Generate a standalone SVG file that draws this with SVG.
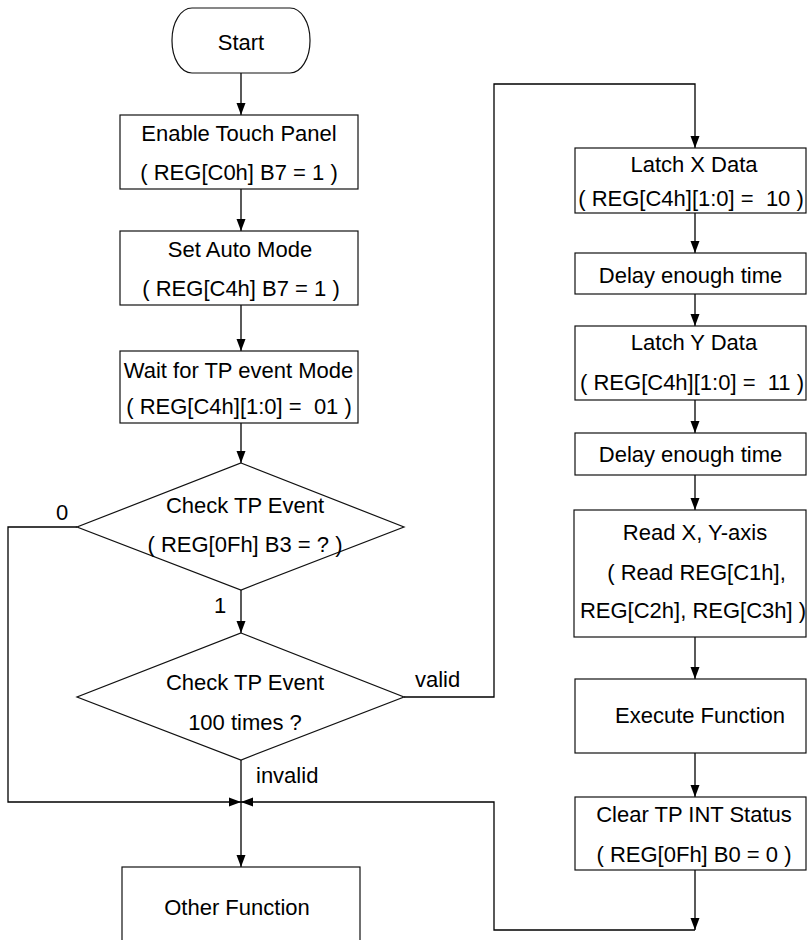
<svg xmlns="http://www.w3.org/2000/svg" width="807" height="940" viewBox="0 0 807 940">
  <defs>
    <marker id="arrow" markerUnits="userSpaceOnUse" markerWidth="12" markerHeight="10" viewBox="0 0 12 10" refX="12" refY="5" orient="auto">
      <path d="M0,0.5 L12,5 L0,9.5 z" fill="#000"/>
    </marker>
    <style>
      .box { fill: #fff; stroke: #111; stroke-width: 1.2; }
      .t { font-family: "Liberation Sans", Arial, sans-serif; font-size: 22px; fill: #000; text-anchor: middle; }
      .lbl { font-family: "Liberation Sans", Arial, sans-serif; font-size: 22px; fill: #000; }
      .ln { fill: none; stroke: #000; stroke-width: 1.3; }
      .ar { fill: none; stroke: #000; stroke-width: 1.3; marker-end: url(#arrow); }
    </style>
  </defs>
  <rect width="807" height="940" fill="#fff"/>

  <g id="connectors">
    <line class="ar" x1="241" y1="73" x2="241" y2="115"/>
    <line class="ar" x1="241" y1="189" x2="241" y2="231"/>
    <line class="ar" x1="241" y1="305" x2="241" y2="351"/>
    <line class="ar" x1="241" y1="423" x2="241" y2="463"/>
    <line class="ar" x1="241" y1="590" x2="241" y2="633"/>
    <polyline class="ar" points="77,527 8,527 8,802 241,802"/>
    <line class="ar" x1="241" y1="760" x2="241" y2="867"/>
    <polyline class="ar" points="404,697 494,697 494,84 695,84 695,148"/>
    <line class="ar" x1="695" y1="213" x2="695" y2="253"/>
    <line class="ar" x1="695" y1="294" x2="695" y2="326"/>
    <line class="ar" x1="695" y1="400" x2="695" y2="433"/>
    <line class="ar" x1="695" y1="475" x2="695" y2="510"/>
    <line class="ar" x1="695" y1="637" x2="695" y2="679"/>
    <line class="ar" x1="695" y1="753" x2="695" y2="797"/>
    <line class="ar" x1="695" y1="870" x2="695" y2="930"/>
    <polyline class="ar" points="695,930 494,930 494,802 241,802"/>
    <text class="lbl" x="62" y="520" text-anchor="middle">0</text>
    <text class="lbl" x="220" y="613" text-anchor="middle">1</text>
    <text class="lbl" x="415" y="687">valid</text>
    <text class="lbl" x="256" y="783">invalid</text>
  </g>

  <g id="start">
    <rect class="box" x="172" y="8" width="138" height="65" rx="20" ry="32"/>
    <text class="t" x="241" y="50">Start</text>
  </g>

  <g id="enable-touch-panel">
    <rect class="box" x="120" y="115" width="238" height="74"/>
    <text class="t" x="239" y="141">Enable Touch Panel</text>
    <text class="t" x="239" y="180">( REG[C0h] B7 = 1 )</text>
  </g>

  <g id="set-auto-mode">
    <rect class="box" x="120" y="231" width="238" height="74"/>
    <text class="t" x="240" y="257">Set Auto Mode</text>
    <text class="t" x="241" y="296">( REG[C4h] B7 = 1 )</text>
  </g>

  <g id="wait-tp-event">
    <rect class="box" x="120" y="351" width="238" height="72"/>
    <text class="t" x="238.5" y="378">Wait for TP event Mode</text>
    <text class="t" x="239" y="414" xml:space="preserve">( REG[C4h][1:0] =  01 )</text>
  </g>

  <g id="check-tp-event">
    <polygon class="box" points="241,463 404,527 241,590 77,527"/>
    <text class="t" x="245" y="513">Check TP Event</text>
    <text class="t" x="245" y="552">( REG[0Fh] B3 = ? )</text>
  </g>

  <g id="check-100-times">
    <polygon class="box" points="241,633 404,697 241,760 77,697"/>
    <text class="t" x="245" y="690">Check TP Event</text>
    <text class="t" x="245" y="730">100 times ?</text>
  </g>

  <g id="other-function">
    <rect class="box" x="122" y="867" width="238" height="90"/>
    <text class="t" x="237" y="915">Other Function</text>
  </g>

  <g id="latch-x">
    <rect class="box" x="575" y="148" width="231" height="65"/>
    <text class="t" x="694" y="172">Latch X Data</text>
    <text class="t" x="691" y="206" xml:space="preserve">( REG[C4h][1:0] =  10 )</text>
  </g>

  <g id="delay-1">
    <rect class="box" x="575" y="253" width="231" height="41"/>
    <text class="t" x="690.5" y="283">Delay enough time</text>
  </g>

  <g id="latch-y">
    <rect class="box" x="575" y="326" width="231" height="74"/>
    <text class="t" x="694" y="350">Latch Y Data</text>
    <text class="t" x="692" y="390" xml:space="preserve">( REG[C4h][1:0] =  11 )</text>
  </g>

  <g id="delay-2">
    <rect class="box" x="575" y="433" width="231" height="42"/>
    <text class="t" x="690.5" y="462">Delay enough time</text>
  </g>

  <g id="read-xy">
    <rect class="box" x="574" y="510" width="232" height="127"/>
    <text class="t" x="695" y="540">Read X, Y-axis</text>
    <text class="t" x="696.5" y="580">( Read REG[C1h],</text>
    <text class="t" x="693" y="618">REG[C2h], REG[C3h] )</text>
  </g>

  <g id="execute">
    <rect class="box" x="575" y="679" width="231" height="74"/>
    <text class="t" x="700" y="723">Execute Function</text>
  </g>

  <g id="clear-tp-int">
    <rect class="box" x="575" y="797" width="231" height="73"/>
    <text class="t" x="694" y="822">Clear TP INT Status</text>
    <text class="t" x="694" y="862">( REG[0Fh] B0 = 0 )</text>
  </g>
</svg>
